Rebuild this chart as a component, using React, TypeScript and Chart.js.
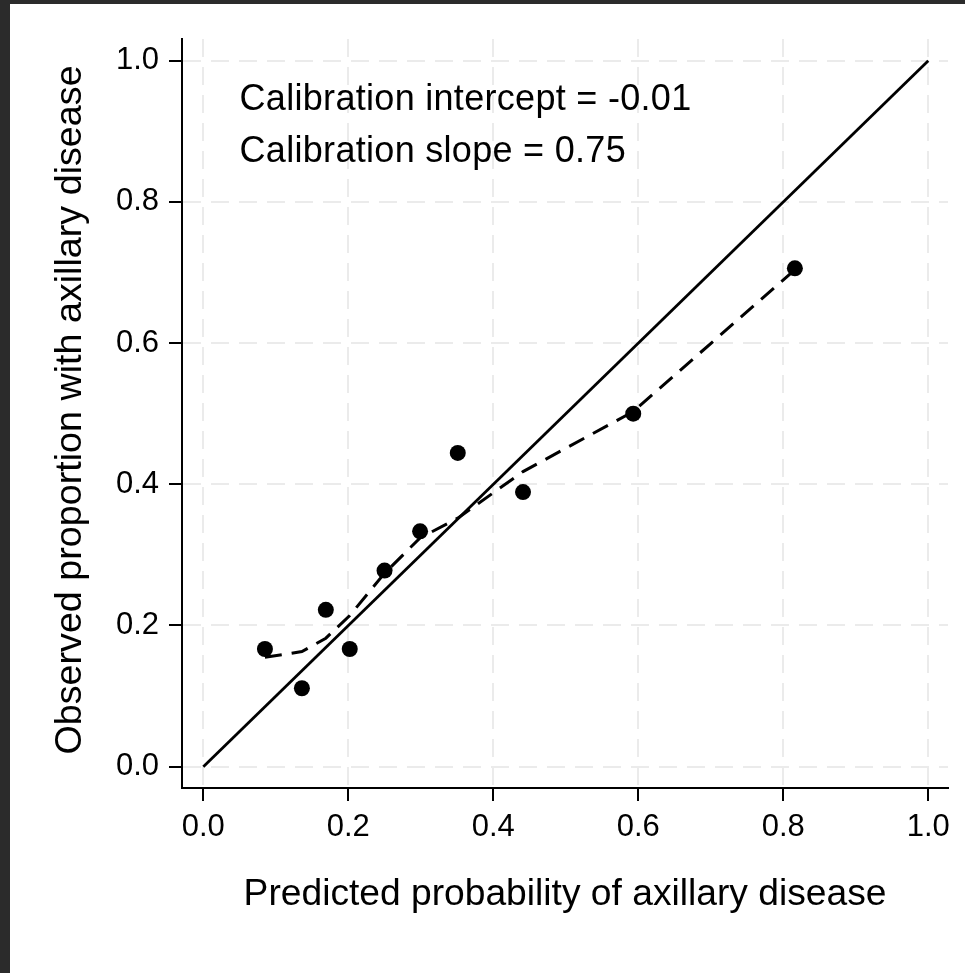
import React, { useEffect, useRef } from "react";
import { Chart, registerables } from "chart.js";

Chart.register(...registerables);

// ---- data ----
const predicted = [0.085, 0.136, 0.169, 0.202, 0.250, 0.299, 0.351, 0.441, 0.593, 0.816];
const observed = [0.1667, 0.1111, 0.2222, 0.1667, 0.2778, 0.3333, 0.4444, 0.3889, 0.5, 0.7059];
const lowessFit = [0.155, 0.163, 0.182, 0.214, 0.274, 0.324, 0.352, 0.418, 0.503, 0.704];
const referenceX = [0, 1];
const referenceY = [0, 1];
const tickValues = [0, 0.2, 0.4, 0.6, 0.8, 1.0];
const annotationLines = ["Calibration intercept = -0.01", "Calibration slope = 0.75"];
const xTitle = "Predicted probability of axillary disease";
const yTitle = "Observed proportion with axillary disease";

const FONT = "'Liberation Sans', Arial, Helvetica, sans-serif";

const framePlugin = {
  id: "frame",
  beforeDraw(chart: any) {
    const { ctx, width, height } = chart;
    ctx.save();
    ctx.fillStyle = "#2b2b2b";
    ctx.fillRect(0, 0, width, height);
    ctx.fillStyle = "#ffffff";
    ctx.fillRect(10, 4, width - 10, height - 4);
    ctx.restore();
  },
  afterDraw(chart: any) {
    const { ctx, chartArea } = chart;
    const xs = chart.scales.x;
    const ys = chart.scales.y;
    ctx.save();
    ctx.fillStyle = "#000";
    ctx.font = `36px ${FONT}`;
    try { (ctx as any).letterSpacing = "0.3px"; } catch (e) {}
    ctx.textAlign = "left";
    ctx.textBaseline = "alphabetic";
    const ax = xs.getPixelForValue(0.05);
    ctx.fillText(annotationLines[0], ax, ys.getPixelForValue(0.93));
    ctx.fillText(annotationLines[1], ax, ys.getPixelForValue(0.856));
    try { (ctx as any).letterSpacing = "0px"; } catch (e) {}
    ctx.textAlign = "center";
    ctx.font = `37.2px ${FONT}`;
    ctx.fillText(xTitle, (chartArea.left + chartArea.right) / 2, 905);
    ctx.font = `37.7px ${FONT}`;
    ctx.translate(81, 410);
    ctx.rotate(-Math.PI / 2);
    ctx.fillText(yTitle, 0, 0);
    ctx.restore();
  },
};

function axisOptions(min: number, max: number, padding: number, fit: (s: any) => void) {
  return {
    type: "linear" as const,
    min,
    max,
    afterFit: fit,
    afterBuildTicks: (s: any) => {
      s.ticks = tickValues.map((v) => ({ value: v }));
    },
    grid: {
      color: "#ebebeb",
      lineWidth: 2,
      drawTicks: true,
      tickLength: 13,
      tickColor: "#000",
      tickWidth: 2,
    },
    border: { display: true, color: "#000", width: 2, dash: [18, 10] },
    ticks: {
      color: "#000",
      font: { size: 31, family: FONT },
      padding,
      maxRotation: 0,
      autoSkip: false,
      callback: (v: any) => Number(v).toFixed(1),
    },
  };
}

export default function App() {
  const ref = useRef<HTMLCanvasElement>(null);
  useEffect(() => {
    const chart = new Chart(ref.current as HTMLCanvasElement, {
      type: "scatter",
      data: {
        datasets: [
          {
            type: "scatter",
            data: predicted.map((x, i) => ({ x, y: observed[i] })),
            pointRadius: 8,
            pointBackgroundColor: "#000",
            pointBorderColor: "#000",
            pointBorderWidth: 0,
            showLine: false,
          },
          {
            type: "line",
            data: predicted.map((x, i) => ({ x, y: lowessFit[i] })),
            borderColor: "#000",
            borderWidth: 3,
            borderDash: [17, 10],
            pointRadius: 0,
            tension: 0,
            fill: false,
          },
          {
            type: "line",
            data: referenceX.map((x, i) => ({ x, y: referenceY[i] })),
            borderColor: "#000",
            borderWidth: 2.8,
            pointRadius: 0,
            tension: 0,
            fill: false,
          },
        ],
      } as any,
      options: {
        responsive: false,
        animation: false,
        layout: { padding: { left: 0, top: 39, right: 17, bottom: 0 } },
        plugins: {
          legend: { display: false },
          tooltip: { enabled: false },
          title: { display: false },
        },
        scales: {
          x: axisOptions(-0.0294, 1.0272, 8, (s: any) => {
            s.height = 185;
          }),
          y: axisOptions(-0.0302, 1.0307, 10, (s: any) => {
            s.width = 182;
          }),
        },
      } as any,
      plugins: [framePlugin],
    });
    return () => chart.destroy();
  }, []);
  return (
    <div style={{ position: "absolute", left: 0, top: 0, width: 965, height: 973 }}>
      <canvas ref={ref} width={965} height={973} style={{ display: "block", width: 965, height: 973 }} />
    </div>
  );
}
